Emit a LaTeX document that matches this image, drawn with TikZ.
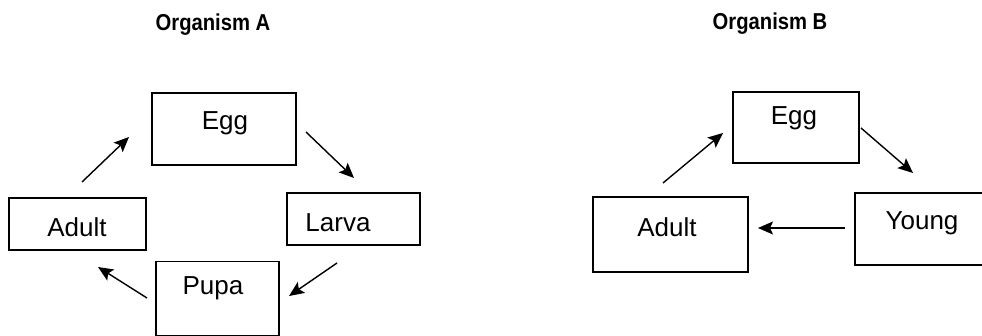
\documentclass[tikz,border=0pt]{standalone}
\usepackage{fontspec}
\setmainfont{Liberation Sans}
\usetikzlibrary{arrows.meta}
\newcommand{\ttlsq}[1]{\scalebox{0.88}[1]{#1}}
\begin{document}
\begin{tikzpicture}[x=1pt,y=-1pt,
  box/.style={draw=black, line width=1.2pt, inner sep=0pt},
  lbl/.style={font=\fontsize{26}{28}\selectfont, inner sep=0pt},
  ttl/.style={font=\fontsize{23}{25}\selectfont\bfseries, inner sep=0pt},
  arr/.style={line width=1.4pt, -{Stealth[length=15pt,width=13pt,inset=3pt]}}]
\useasboundingbox (0,0) rectangle (982,336);
% titles
\node[ttl] (tA) at (213,25) {\ttlsq{Organism A}};
\node[ttl] (tB) at (770,24) {\ttlsq{Organism B}};
% Organism A boxes
\node[box, minimum width=144pt, minimum height=72pt] (eggA) at (224,129) {};
\node[lbl] (eggAt) at (225,123) {Egg};
\node[box, minimum width=133pt, minimum height=52pt] (larvaA) at (353.5,219) {};
\node[lbl] (larvaAt) at (338,223) {Larva};
\node[box, minimum width=137pt, minimum height=52pt] (adultA) at (77.5,224) {};
\node[lbl] (adultAt) at (77,227) {Adult};
\node[box, minimum width=123pt, minimum height=74pt] (pupaA) at (217.5,298.5) {};
\node[lbl] (pupaAt) at (213,288) {Pupa};
% Organism A arrows
\coordinate (a1s) at (82,182); \coordinate (a1e) at (129,137);
\coordinate (a2s) at (306,132); \coordinate (a2e) at (354,178);
\coordinate (a3s) at (337,263); \coordinate (a3e) at (289,296);
\coordinate (a4s) at (147,298); \coordinate (a4e) at (98,267);
\draw[arr] (a1s) -- (a1e);
\draw[arr] (a2s) -- (a2e);
\draw[arr] (a3s) -- (a3e);
\draw[arr] (a4s) -- (a4e);
% Organism B boxes
\node[box, minimum width=126pt, minimum height=71pt] (eggB) at (796,127.5) {};
\node[lbl] (eggBt) at (794,118) {Egg};
\node[box, minimum width=135pt, minimum height=72pt] (youngB) at (922.5,229) {};
\node[lbl] (youngBt) at (922,223) {Young};
\node[box, minimum width=155pt, minimum height=75pt] (adultB) at (670.5,234.5) {};
\node[lbl] (adultBt) at (667,227) {Adult};
% Organism B arrows
\coordinate (b1s) at (663,183); \coordinate (b1e) at (723,133);
\coordinate (b2s) at (861,128); \coordinate (b2e) at (913,173);
\coordinate (b3s) at (845,228); \coordinate (b3e) at (758,228);
\draw[arr] (b1s) -- (b1e);
\draw[arr] (b2s) -- (b2e);
\draw[arr] (b3s) -- (b3e);
\end{tikzpicture}
\end{document}
